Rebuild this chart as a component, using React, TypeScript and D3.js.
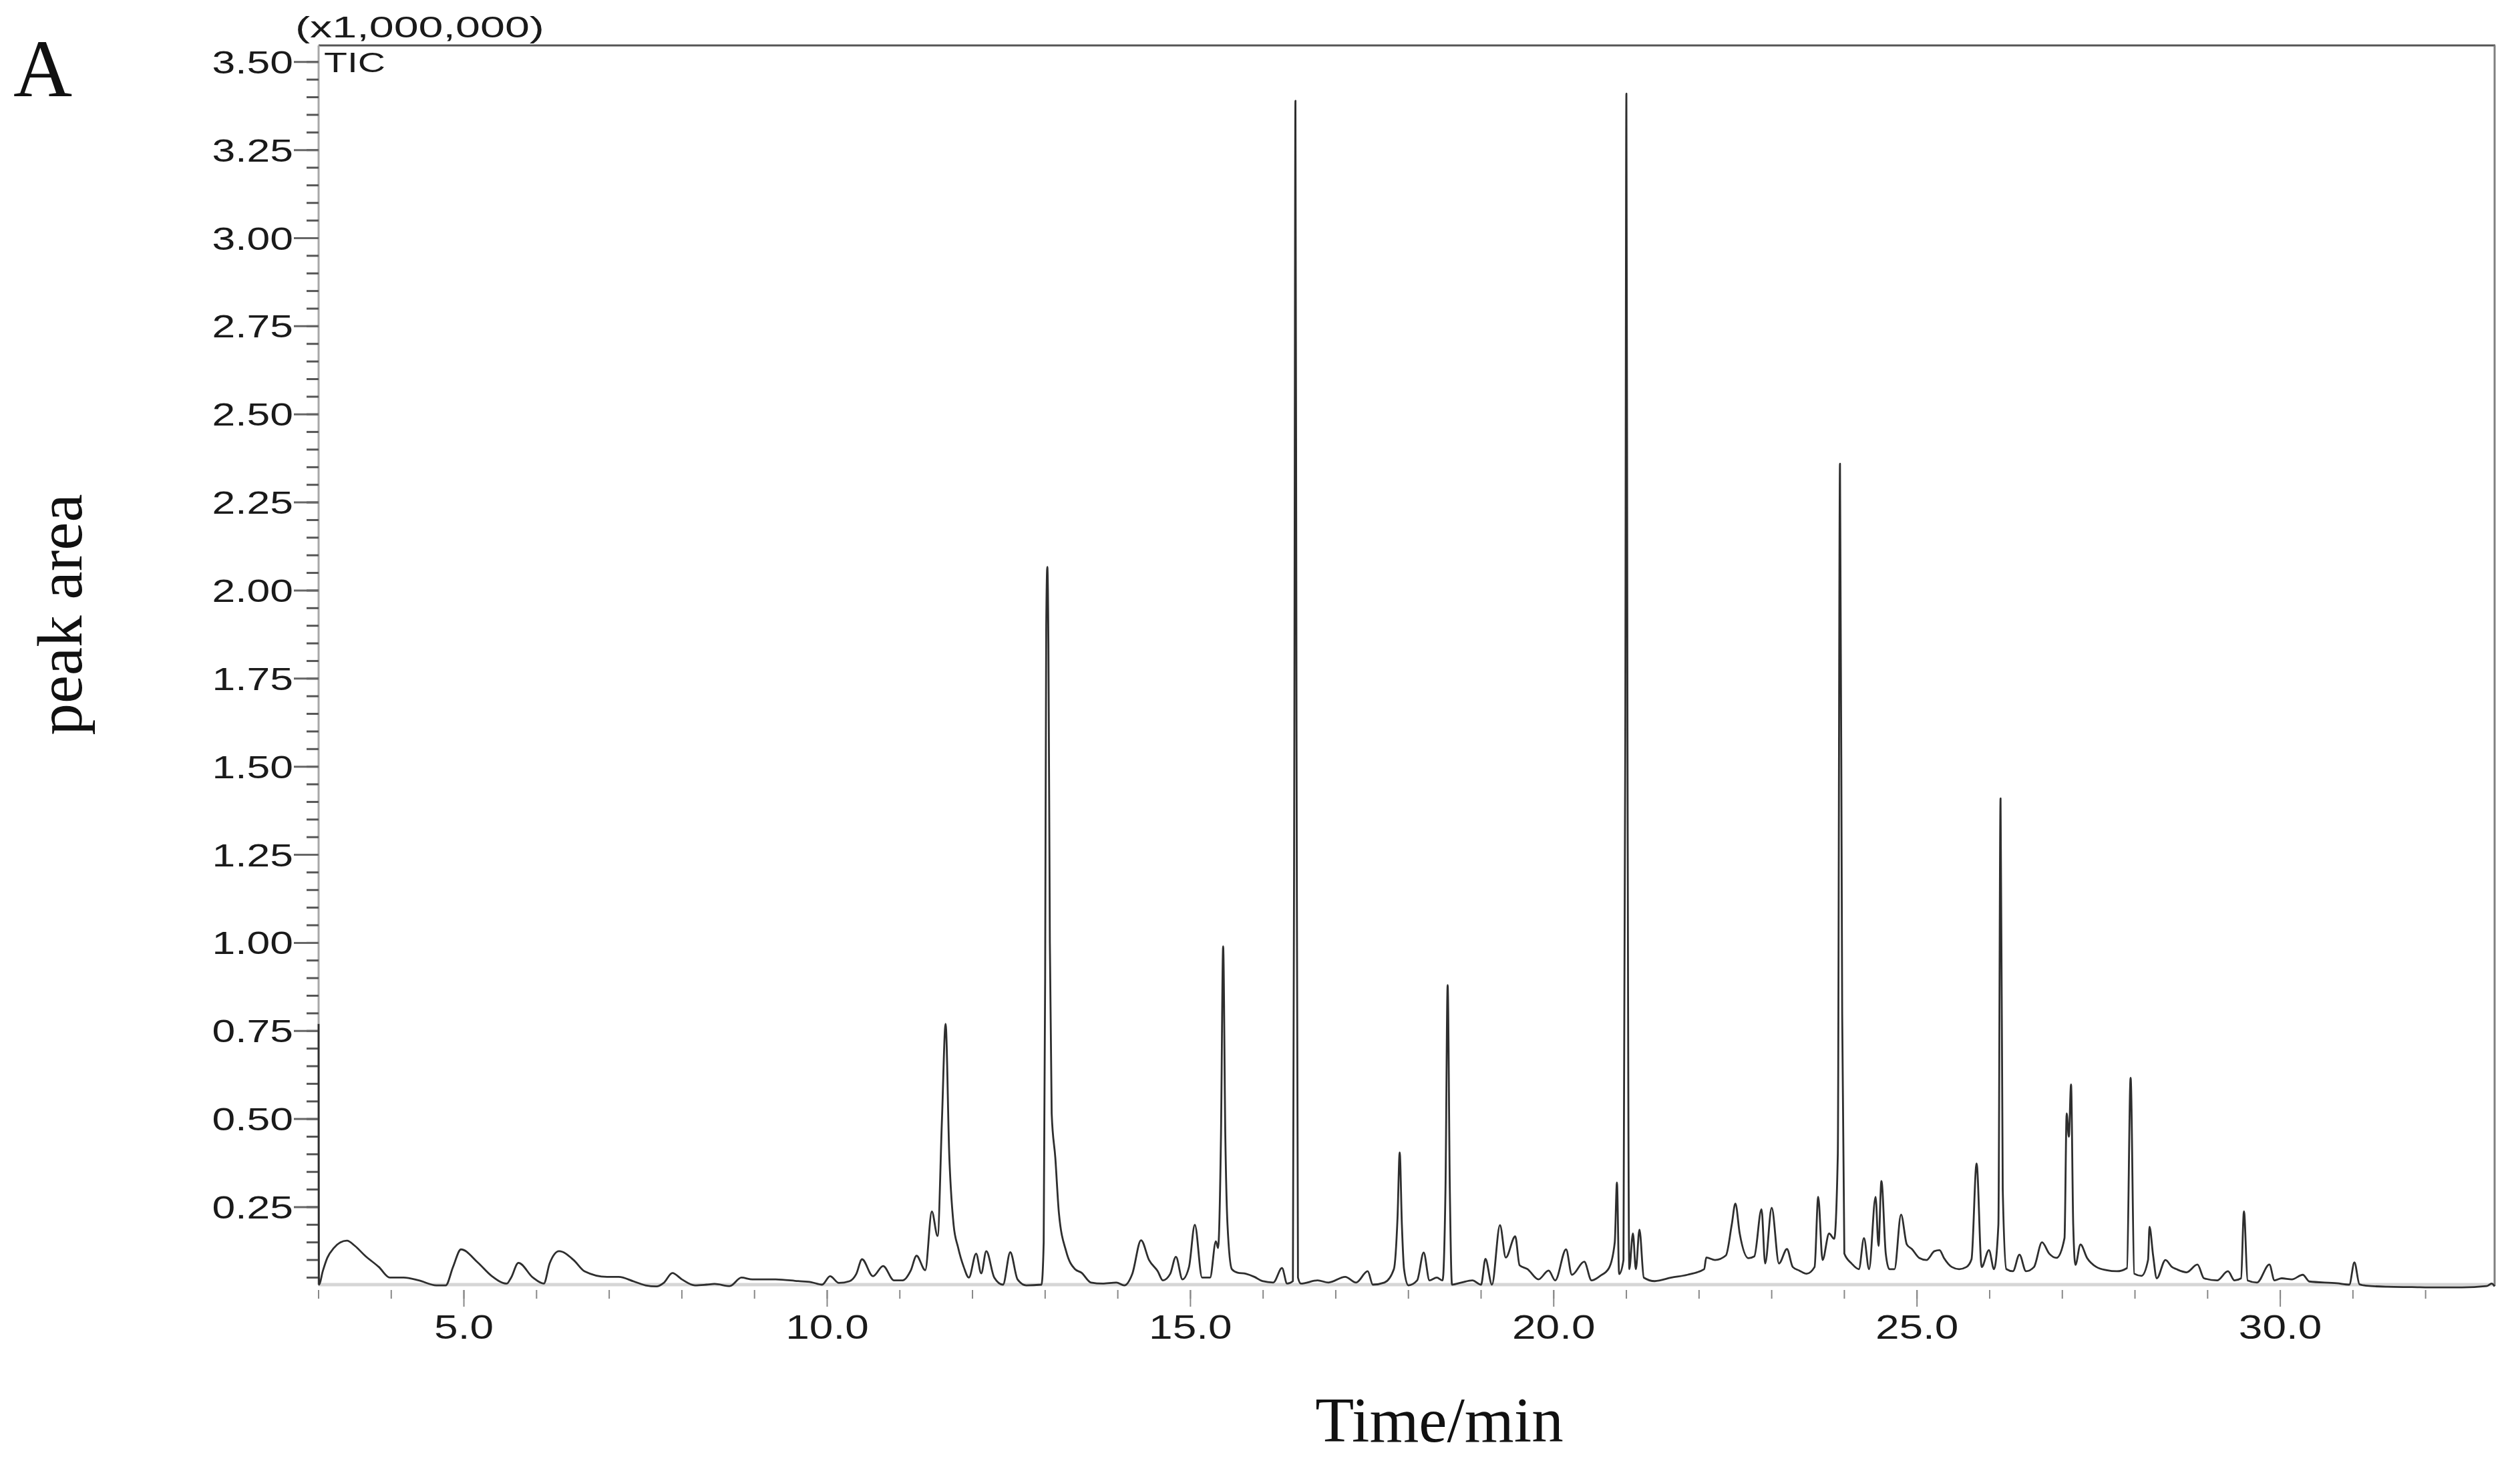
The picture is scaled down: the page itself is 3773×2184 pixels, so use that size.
import React, { useEffect } from 'react';
import * as d3 from 'd3';

// ---------- data: TIC trace [time (min), intensity (x1,000,000)] ----------
const traceEarly: [number, number][] = [
  [3.0, 0.77], [3.005, 0.03], [3.06, 0.07], [3.12, 0.106], [3.21, 0.134], [3.3, 0.15], [3.39, 0.155],
  [3.5, 0.14], [3.64, 0.112], [3.83, 0.08], [3.98, 0.05], [4.17, 0.05], [4.38, 0.042], [4.62, 0.028],
  [4.75, 0.028], [4.85, 0.08], [4.96, 0.13], [5.19, 0.093], [5.38, 0.055], [5.59, 0.033], [5.65, 0.05],
  [5.75, 0.092], [5.95, 0.05], [6.1, 0.033], [6.18, 0.09], [6.31, 0.125], [6.51, 0.1], [6.66, 0.068],
  [6.97, 0.052], [7.13, 0.052], [7.34, 0.039], [7.5, 0.028], [7.65, 0.025], [7.75, 0.035], [7.87, 0.063],
  [8.0, 0.045], [8.18, 0.028], [8.34, 0.03], [8.45, 0.032], [8.66, 0.026], [8.82, 0.05], [8.97, 0.045],
  [9.29, 0.045], [9.6, 0.04], [9.78, 0.037], [9.93, 0.03], [10.04, 0.054], [10.16, 0.035], [10.31, 0.04],
];

const traceMid1: [number, number][] = [
  [10.4, 0.06], [10.48, 0.102], [10.63, 0.054], [10.77, 0.083], [10.92, 0.042], [11.04, 0.042],
  [11.15, 0.07], [11.23, 0.112], [11.35, 0.071], [11.44, 0.238], [11.52, 0.168], [11.58, 0.5],
  [11.63, 0.77], [11.68, 0.4], [11.74, 0.2], [11.8, 0.137], [11.88, 0.08], [11.95, 0.05], [12.05, 0.118],
  [12.12, 0.062], [12.19, 0.125], [12.3, 0.05], [12.42, 0.03], [12.52, 0.122], [12.62, 0.045],
  [12.74, 0.028], [12.95, 0.03], [12.98, 0.15], [13.0, 0.9], [13.015, 1.9], [13.03, 2.067], [13.045, 1.85],
  [13.065, 1.0], [13.09, 0.516], [13.14, 0.39], [13.19, 0.232], [13.29, 0.124], [13.41, 0.074], [13.5, 0.064],
];

const traceMid2: [number, number][] = [
  [13.63, 0.036], [13.79, 0.033], [13.98, 0.036], [14.09, 0.028], [14.2, 0.061], [14.32, 0.156],
  [14.43, 0.1], [14.55, 0.068], [14.62, 0.042], [14.72, 0.06], [14.8, 0.109], [14.89, 0.045], [14.98, 0.08],
  [15.06, 0.2], [15.16, 0.05], [15.27, 0.05], [15.35, 0.153], [15.38, 0.134], [15.42, 0.45], [15.45, 0.99],
  [15.48, 0.45], [15.51, 0.2], [15.57, 0.074], [15.65, 0.064], [15.76, 0.061], [15.88, 0.052], [15.99, 0.04],
  [16.14, 0.036], [16.26, 0.077], [16.33, 0.033], [16.41, 0.04], [16.43, 1.6], [16.445, 3.39], [16.46, 1.6],
  [16.48, 0.05], [16.52, 0.033], [16.75, 0.042], [16.9, 0.036], [17.13, 0.052], [17.28, 0.036], [17.44, 0.068],
  [17.51, 0.03], [17.67, 0.036], [17.8, 0.074], [17.85, 0.22], [17.88, 0.405], [17.91, 0.2], [17.94, 0.074],
  [18.0, 0.028], [18.12, 0.042], [18.21, 0.121], [18.29, 0.042], [18.39, 0.05], [18.47, 0.042], [18.51, 0.3],
  [18.54, 0.88], [18.57, 0.3], [18.6, 0.03],
];

const traceMid3: [number, number][] = [
  [18.73, 0.036], [18.88, 0.042], [19.0, 0.03], [19.06, 0.103], [19.15, 0.03], [19.26, 0.199],
  [19.34, 0.107], [19.47, 0.167], [19.53, 0.085], [19.64, 0.074], [19.79, 0.045], [19.93, 0.07],
  [20.02, 0.042], [20.17, 0.13], [20.25, 0.058], [20.42, 0.095], [20.52, 0.042], [20.64, 0.055],
  [20.76, 0.077], [20.84, 0.15], [20.87, 0.32], [20.9, 0.06], [20.96, 0.1], [20.985, 1.6], [21.0, 3.41],
  [21.015, 1.6], [21.04, 0.074], [21.09, 0.175], [21.13, 0.074], [21.18, 0.186], [21.24, 0.05],
  [21.39, 0.04], [21.62, 0.05], [21.84, 0.058], [22.07, 0.074], [22.1, 0.107], [22.22, 0.1], [22.37, 0.113],
  [22.45, 0.2], [22.5, 0.26], [22.56, 0.175], [22.68, 0.105], [22.76, 0.11], [22.86, 0.244], [22.91, 0.09],
  [23.0, 0.248], [23.1, 0.09], [23.21, 0.131], [23.29, 0.08], [23.38, 0.07], [23.48, 0.061],
];

const traceLate: [number, number][] = [
  [23.59, 0.08], [23.64, 0.279], [23.7, 0.1], [23.79, 0.175], [23.86, 0.16], [23.91, 0.4], [23.94, 2.36],
  [23.97, 0.8], [24.0, 0.118], [24.1, 0.09], [24.2, 0.074], [24.27, 0.162], [24.34, 0.074], [24.43, 0.279],
  [24.47, 0.14], [24.51, 0.324], [24.57, 0.118], [24.62, 0.074], [24.69, 0.074], [24.78, 0.229],
  [24.86, 0.144], [24.93, 0.131], [25.03, 0.106], [25.13, 0.1], [25.24, 0.125], [25.31, 0.128],
  [25.37, 0.106], [25.48, 0.08], [25.58, 0.074], [25.68, 0.08], [25.75, 0.102], [25.82, 0.374],
  [25.89, 0.08], [25.99, 0.128], [26.06, 0.074], [26.12, 0.2], [26.15, 1.41], [26.18, 0.3], [26.23, 0.074],
  [26.32, 0.068], [26.41, 0.115], [26.5, 0.068], [26.61, 0.08], [26.72, 0.15], [26.82, 0.118],
  [26.92, 0.106], [27.03, 0.162], [27.06, 0.516], [27.09, 0.45], [27.12, 0.598], [27.15, 0.2],
  [27.18, 0.086], [27.25, 0.144], [27.34, 0.106], [27.47, 0.08], [27.61, 0.071], [27.75, 0.068],
  [27.89, 0.077], [27.94, 0.617], [27.99, 0.061], [28.09, 0.055], [28.18, 0.1], [28.2, 0.194],
  [28.25, 0.112], [28.3, 0.048], [28.42, 0.1], [28.51, 0.08], [28.57, 0.074], [28.71, 0.065],
  [28.86, 0.087], [28.95, 0.048], [29.13, 0.042], [29.28, 0.068], [29.37, 0.042], [29.46, 0.048],
  [29.5, 0.238], [29.55, 0.042], [29.68, 0.036], [29.85, 0.087], [29.92, 0.042], [30.02, 0.048],
  [30.16, 0.045], [30.31, 0.058], [30.4, 0.039], [30.78, 0.034], [30.95, 0.03], [31.02, 0.093],
  [31.09, 0.031], [31.19, 0.027], [31.47, 0.024], [31.81, 0.023], [32.15, 0.022], [32.5, 0.022],
  [32.84, 0.026], [32.91, 0.033], [32.95, 0.025],
];

// ---------- axis ticks / labels ----------
const xMajorTicks = [5, 10, 15, 20, 25, 30];
const xTickLabels = ['5.0', '10.0', '15.0', '20.0', '25.0', '30.0'];
const yMajorTicks = [0.25, 0.5, 0.75, 1.0, 1.25, 1.5, 1.75, 2.0, 2.25, 2.5, 2.75, 3.0, 3.25, 3.5];
const yTickLabels = ['0.25', '0.50', '0.75', '1.00', '1.25', '1.50', '1.75', '2.00', '2.25', '2.50', '2.75', '3.00', '3.25', '3.50'];

const W = 3773;
const H = 2184;
const PL = 477, PR = 3735, PT = 68, PB = 1923;

const SANS = '"Liberation Sans", Arial, sans-serif';
const SERIF = '"Liberation Serif", "Times New Roman", serif';

export default function App() {
  useEffect(() => {
    document.body.style.margin = '0';
  }, []);

  const x = d3.scaleLinear().domain([3.0, 32.95]).range([PL, PR]);
  const y = d3.scaleLinear().domain([0.03, 3.547]).range([PB, PT]);

  const trace = [...traceEarly, ...traceMid1, ...traceMid2, ...traceMid3, ...traceLate];
  const line = d3
    .line<[number, number]>()
    .x((d) => x(d[0]))
    .y((d) => y(d[1]))
    .curve(d3.curveMonotoneX);

  const xMinor = d3.range(3, 33, 1);
  const yMinor = d3.range(1, 71).map((i) => +(i * 0.05).toFixed(2));

  return (
    <svg
      width={W}
      height={H}
      viewBox={`0 0 ${W} ${H}`}
      style={{ display: 'block', position: 'absolute', left: 0, top: 0, background: '#fff' }}
    >
      <rect x={0} y={0} width={W} height={H} fill="#fff" />

      {/* frame */}
      <line x1={PL} y1={PB} x2={PR} y2={PB} stroke="#d6d6d6" strokeWidth={5} />
      <line x1={PL} y1={PT} x2={PR + 1} y2={PT} stroke="#555" strokeWidth={3} />
      <line x1={PR} y1={PT} x2={PR} y2={PB + 2} stroke="#808080" strokeWidth={3} />
      <line x1={PL} y1={PT} x2={PL} y2={PB} stroke="#a8a8a8" strokeWidth={3} />

      {/* y ticks */}
      {yMinor.map((v) => (
        <line key={'ym' + v} x1={PL - 18} x2={PL} y1={y(v)} y2={y(v)} stroke="#555" strokeWidth={3} />
      ))}
      {yMajorTicks.map((v) => (
        <line key={'yM' + v} x1={PL - 37} x2={PL} y1={y(v)} y2={y(v)} stroke="#666" strokeWidth={3} />
      ))}
      {yMajorTicks.map((v, i) => (
        <g key={'yl' + v} transform={`translate(${PL - 38},${y(v) + 17}) scale(1.3,1)`}>
          <text textAnchor="end" fontFamily={SANS} fontSize={48} fill="#1a1a1a">
            {yTickLabels[i]}
          </text>
        </g>
      ))}

      {/* x ticks */}
      {xMinor.map((t) => (
        <line key={'xm' + t} x1={x(t)} x2={x(t)} y1={PB + 8} y2={PB + 21} stroke="#888" strokeWidth={2} />
      ))}
      {xMajorTicks.map((t) => (
        <line key={'xM' + t} x1={x(t)} x2={x(t)} y1={PB + 8} y2={PB + 33} stroke="#888" strokeWidth={2} />
      ))}
      {xMajorTicks.map((t, i) => (
        <g key={'xl' + t} transform={`translate(${x(t)},${2004}) scale(1.28,1)`}>
          <text textAnchor="middle" fontFamily={SANS} fontSize={50} fill="#1a1a1a">
            {xTickLabels[i]}
          </text>
        </g>
      ))}

      {/* trace */}
      <path d={line(trace) || ''} fill="none" stroke="#2e2e2e" strokeWidth={2.8} strokeLinejoin="round" />

      {/* annotations */}
      <text x={442} y={56} fontFamily={SANS} fontSize={44} fill="#1a1a1a" textLength={373} lengthAdjust="spacingAndGlyphs">
        (x1,000,000)
      </text>
      <g transform="translate(485,108) scale(1.33,1)">
        <text fontFamily={SANS} fontSize={43} fill="#1a1a1a">TIC</text>
      </g>
      <text x={20} y={144} fontFamily={SERIF} fontSize={122} fill="#111">A</text>
      <text
        transform="translate(122,920) rotate(-90)"
        textAnchor="middle"
        fontFamily={SERIF}
        fontSize={95}
        fill="#111"
      >
        peak area
      </text>
      <text x={2155} y={2158} textAnchor="middle" fontFamily={SERIF} fontSize={95} fill="#111">
        Time/min
      </text>
    </svg>
  );
}
